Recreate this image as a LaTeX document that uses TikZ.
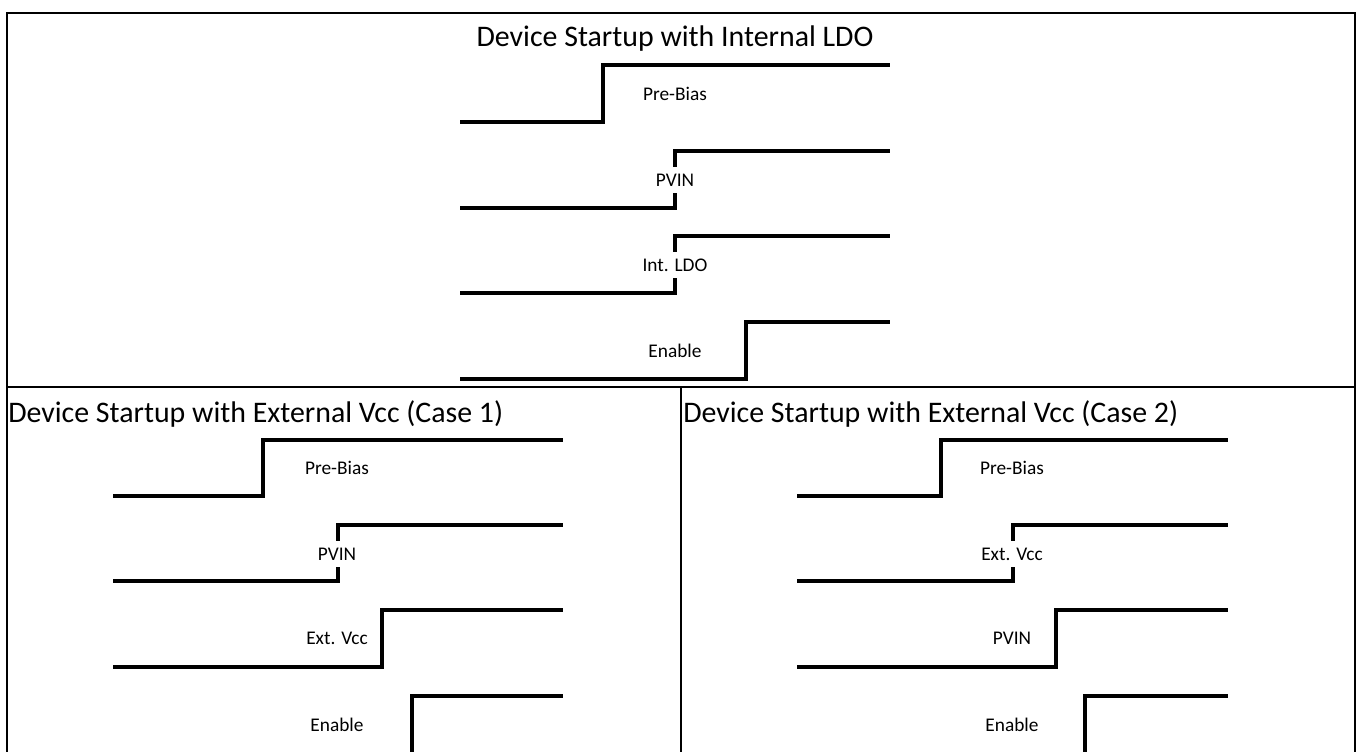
\documentclass[tikz,border=0pt]{standalone}
\usepackage{fontspec}
\setmainfont{Carlito}

% one rising edge: low from #1 to #2, high from #2 to #3
\newcommand{\stepwave}[5]{%
  \draw[wave] (#1,#4) -- (#2,#4) -- (#2,#5) -- (#3,#5);}

\begin{document}
\begin{tikzpicture}[x=0.75pt,y=-0.75pt,
    wave/.style={line width=2.4pt},
    frame/.style={line width=1.3pt},
    sig/.style={fill=white,inner xsep=2pt,minimum height=20pt,font=\fontsize{14.5}{16}\selectfont},
    title/.style={inner sep=0pt,font=\fontsize{22.4}{25}\selectfont}]
        \useasboundingbox (0,0) rectangle (1357,752);
        \clip (0,0) rectangle (1357,752);

        % frame and panels
        \draw[frame] (7,790) -- (7,13) -- (1355,13) -- (1355,790);
        \draw[frame] (7,387) -- (1355,387);
        \draw[frame] (681,387) -- (681,790);

        % internal LDO
        \node[title] (tLDO) at (675,39) {Device Startup with Internal LDO};
        \stepwave{460}{603}{890}{122}{65}
        \stepwave{460}{675}{890}{208}{151}
        \stepwave{460}{675}{890}{293}{236}
        \stepwave{460}{746}{890}{379}{322}
        \node[sig] (aBias) at (675,94) {Pre-Bias};
        \node[sig] (aPvin) at (675,180) {PVIN};
        \node[sig] (aLdo) at (675,265) {Int. LDO};
        \node[sig] (aEn) at (675,351) {Enable};

        % external Vcc, case 1
        \node[title,anchor=west] (tCaseA) at (8,414) {Device Startup with External Vcc (Case 1)};
        \stepwave{113}{263}{563}{496}{440}
        \stepwave{113}{338}{563}{581}{525}
        \stepwave{113}{382}{563}{667}{610}
        \stepwave{113}{412}{563}{782}{696}
        \node[sig] (bBias) at (337,468) {Pre-Bias};
        \node[sig] (bPvin) at (337,554) {PVIN};
        \node[sig] (bVcc) at (337,638) {Ext. Vcc};
        \node[sig] (bEn) at (337,725) {Enable};

        % external Vcc, case 2
        \node[title,anchor=west] (tCaseB) at (683,414) {Device Startup with External Vcc (Case 2)};
        \stepwave{797}{941}{1228}{496}{440}
        \stepwave{797}{1013}{1228}{581}{525}
        \stepwave{797}{1056}{1228}{667}{610}
        \stepwave{797}{1085}{1228}{782}{696}
        \node[sig] (cBias) at (1012,468) {Pre-Bias};
        \node[sig] (cVcc) at (1012,554) {Ext. Vcc};
        \node[sig] (cPvin) at (1012,638) {PVIN};
        \node[sig] (cEn) at (1012,725) {Enable};
\end{tikzpicture}
\end{document}
